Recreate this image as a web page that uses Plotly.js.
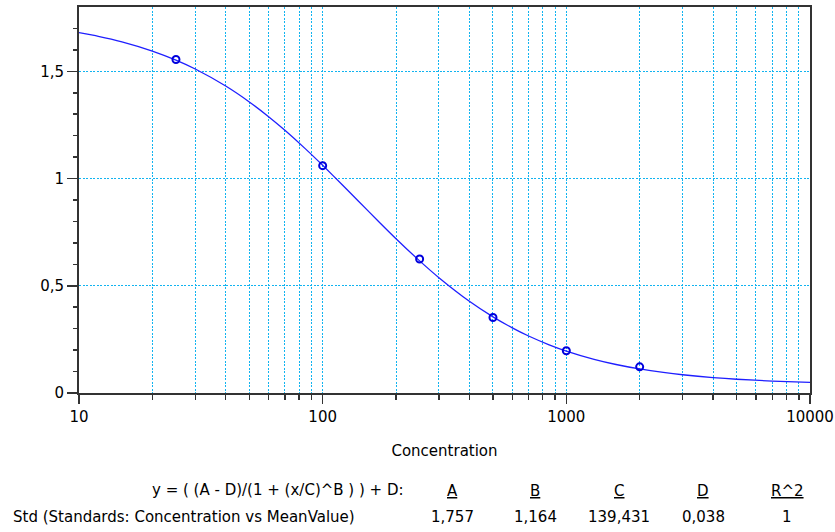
<!DOCTYPE html>
<html>
<head>
<meta charset="utf-8">
<script src="https://cdn.plot.ly/plotly-3.0.1.min.js"></script>
<style>html,body{margin:0;padding:0;background:#fff;}#chart{width:835px;height:532px;}</style>
</head>
<body>
<div id="chart"></div>
<script>
// Standards (measured points)
const concentrations = [25, 100, 250, 500, 1000, 2000];
const meanValues = [1.555, 1.060, 0.625, 0.352, 0.197, 0.122];

// Fitted curve
const fitX = [10,12,15,20,25,30,40,50,60,70,85,100,120,140,170,200,250,300,400,500,600,700,850,1000,1300,1600,2000,2500,3000,4000,5000,7000,10000];
const fitY = [1.6805,1.6634,1.6376,1.5946,1.5522,1.5107,1.4313,1.3572,1.2884,1.2248,1.1384,1.0617,0.9724,0.8955,0.7988,0.7196,0.6162,0.5378,0.4278,0.3551,0.3038,0.2659,0.2248,0.1956,0.1570,0.1329,0.1121,0.0957,0.0850,0.0719,0.0642,0.0558,0.0498];

// Tick labels
const xTickVals = [10, 100, 1000, 10000];
const xTickText = ['10', '100', '1000', '10000'];
const xMinorVals = [20,30,40,50,60,70,80,90,200,300,400,500,600,700,800,900,2000,3000,4000,5000,6000,7000,8000,9000];
const yTickVals = [0, 0.5, 1, 1.5];
const yTickText = ['0', '0,5', '1', '1,5'];
const yMinorVals = [0.1,0.2,0.3,0.4,0.6,0.7,0.8,0.9,1.1,1.2,1.3,1.4,1.6,1.7];

// Fit parameter table
const formulaText = 'y = ( (A - D)/(1 + (x/C)^B ) ) + D:';
const seriesLabel = 'Std (Standards: Concentration vs MeanValue)';
const paramNames = ['A', 'B', 'C', 'D', 'R^2'];
const paramValues = ['1,757', '1,164', '139,431', '0,038', '1'];

const FONT = 'DejaVu Sans, Arial, sans-serif';
const L = 79, R = 25, T = 7, B = 139, W = 835, H = 532;
const pw = W - L - R, ph = H - T - B;
const px = x => (x - L) / pw;
const py = y => (H - B - y) / ph;

const gridColor = '#12b4f0';
const gridDash = '2px,1.5px';
const lineColor = '#333333';
const blue = '#1f1fff';
const txt = '#000000';

const traces = [
  {
    x: fitX, y: fitY, type: 'scatter', mode: 'lines',
    line: {color: blue, width: 1.3, shape: 'spline', smoothing: 0.6},
    hoverinfo: 'skip', showlegend: false
  },
  {
    x: concentrations, y: meanValues, type: 'scatter', mode: 'markers',
    marker: {symbol: 'circle-open', size: 7, color: '#0000dd', line: {width: 2, color: '#0000dd'}},
    showlegend: false
  }
];

const colX = [452, 535, 619, 703, 787];
const annotations = [
  {text: formulaText, xref: 'paper', yref: 'paper', x: px(406), y: py(490), xanchor: 'right', yanchor: 'middle', showarrow: false, font: {family: FONT, size: 15, color: txt}},
  {text: seriesLabel, xref: 'paper', yref: 'paper', x: px(11), y: py(517), xanchor: 'left', yanchor: 'middle', showarrow: false, font: {family: FONT, size: 15, color: txt}}
];
paramNames.forEach((n, i) => {
  annotations.push({text: '<u>' + n + '</u>', xref: 'paper', yref: 'paper', x: px(colX[i]), y: py(491), xanchor: 'center', yanchor: 'middle', showarrow: false, font: {family: FONT, size: 15, color: txt}});
  annotations.push({text: paramValues[i], xref: 'paper', yref: 'paper', x: px(colX[i]), y: py(517), xanchor: 'center', yanchor: 'middle', showarrow: false, font: {family: FONT, size: 15, color: txt}});
});

const layout = {
  width: W, height: H,
  margin: {l: L, r: R, t: T, b: B, pad: 0},
  paper_bgcolor: '#ffffff', plot_bgcolor: '#ffffff',
  font: {family: FONT, size: 15, color: txt},
  showlegend: false,
  xaxis: {
    type: 'log', range: [1, 4],
    tickmode: 'array', tickvals: xTickVals, ticktext: xTickText,
    ticks: 'outside', ticklen: 9, tickwidth: 1.5, tickcolor: lineColor,
    showgrid: true, gridcolor: gridColor, gridwidth: 1, griddash: gridDash,
    minor: {tickmode: 'array', tickvals: xMinorVals, ticks: 'outside', ticklen: 5, tickwidth: 1.5, tickcolor: lineColor, showgrid: true, gridcolor: gridColor, gridwidth: 1, griddash: gridDash},
    showline: true, linecolor: lineColor, linewidth: 2, mirror: true,
    zeroline: false,
    tickfont: {family: FONT, size: 15, color: txt},
    title: {text: 'Concentration', font: {family: FONT, size: 15, color: txt}, standoff: 20}
  },
  yaxis: {
    range: [0, 1.8],
    tickmode: 'array', tickvals: yTickVals, ticktext: yTickText,
    ticks: 'outside', ticklen: 10, tickwidth: 1.5, tickcolor: lineColor,
    showgrid: true, gridcolor: gridColor, gridwidth: 1, griddash: gridDash,
    minor: {tickmode: 'array', tickvals: yMinorVals, ticks: 'outside', ticklen: 4, tickwidth: 1.5, tickcolor: lineColor, showgrid: false},
    showline: true, linecolor: lineColor, linewidth: 2, mirror: true,
    zeroline: false,
    tickfont: {family: FONT, size: 15, color: txt}
  },
  annotations: annotations
};

Plotly.newPlot('chart', traces, layout, {staticPlot: true, displayModeBar: false});
</script>
</body>
</html>
